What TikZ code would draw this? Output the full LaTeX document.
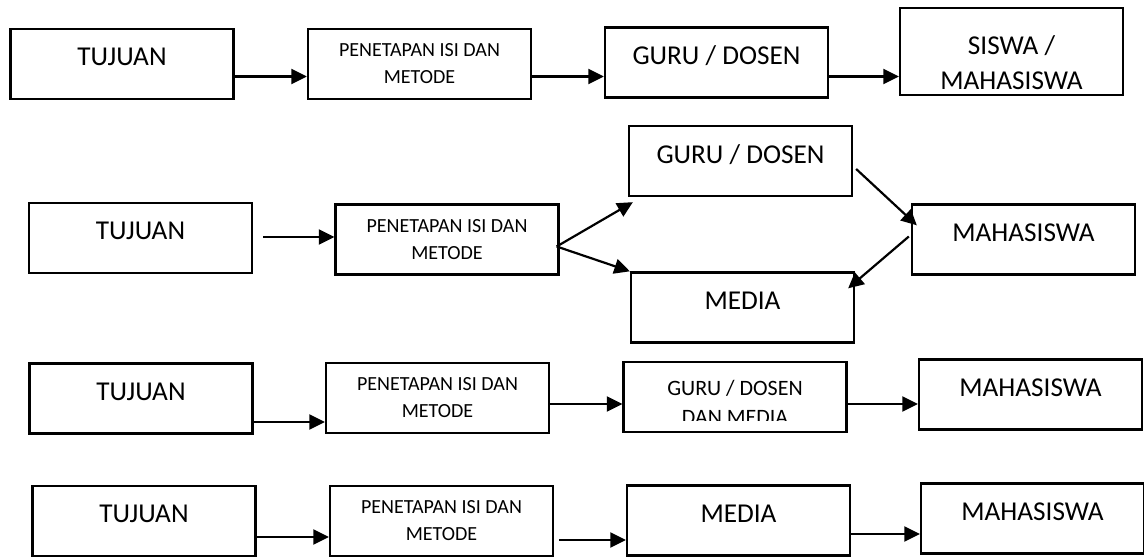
\documentclass[tikz,border=0pt]{standalone}
\usepackage{fontspec}
\setmainfont{Carlito}
\usetikzlibrary{arrows.meta}

\begin{document}
\begin{tikzpicture}[x=0.02cm, y=-0.02cm,
  box/.style={draw, line width=1.35pt, minimum width=4.46cm, minimum height=1.4cm, inner sep=0pt, align=center},
  bigtxt/.style={font=\fontsize{15.5}{19.9}\selectfont},
  smalltxt/.style={font=\fontsize{11.4}{15.4}\selectfont},
  midtxt/.style={font=\fontsize{12.5}{16.5}\selectfont},
  lift/.style={text depth=0.28cm},
  arr/.style={line width=1.25pt, -{Triangle[length=0.31cm, width=0.3cm]}}]
\useasboundingbox (0,0) rectangle (1144,557);

\node[box,bigtxt,lift] (tuj1) at (122,64) {TUJUAN};
\node[box,smalltxt] (pen1) at (419.5,64) {PENETAPAN ISI DAN\\METODE};
\node[box,bigtxt,lift] (gur1) at (716.5,62.5) {GURU / DOSEN};
\node[box,bigtxt,minimum height=1.74cm,text height=1.53cm] (sis1) at (1011.5,51.5) {SISWA /\\MAHASISWA};
\coordinate (r1) at (0,76.5);
\draw[arr] (tuj1.east |- r1) -- (pen1.west |- r1);
\draw[arr] (pen1.east |- r1) -- (gur1.west |- r1);
\draw[arr] (gur1.east |- r1) -- (sis1.west |- r1);

\node[box,bigtxt,lift] (tuj2) at (140.5,238) {TUJUAN};
\node[box,smalltxt] (pen2) at (447,239.5) {PENETAPAN ISI DAN\\METODE};
\node[box,bigtxt,lift] (gur2) at (740.5,161) {GURU / DOSEN};
\node[box,bigtxt,lift] (med2) at (742.5,307.5) {MEDIA};
\node[box,bigtxt,lift] (mah2) at (1023.5,239.5) {MAHASISWA};
\coordinate (r2) at (0,237);
\coordinate (fan) at ([shift={(-3,7)}]pen2.east);
\draw[arr, shorten <=0.2cm] (tuj2.east |- r2) -- (pen2.west |- r2);
\draw[arr] (fan) -- ([shift={(5,5)}]gur2.south west);
\draw[arr] (fan) -- (med2.north west);
\draw[arr] ([shift={(3,8)}]gur2.east) -- ([shift={(6,22)}]mah2.north west);
\draw[arr] ([shift={(-2,-3)}]mah2.west) -- ([shift={(-7,17)}]med2.north east);

\node[box,bigtxt,lift] (tuj3) at (141,398.5) {TUJUAN};
\node[box,smalltxt] (pen3) at (437.5,398) {PENETAPAN ISI DAN\\METODE};
\node[box, path picture={
    \clip ([yshift=0.22cm]path picture bounding box.south west) rectangle (path picture bounding box.north east);
    \node[midtxt, align=center] (gur3txt) at ([yshift=-0.11cm]path picture bounding box.center) {GURU / DOSEN\\DAN MEDIA};
  }] (gur3) at (735,397) {};
\node[box,bigtxt,lift] (mah3) at (1030.5,394.5) {MAHASISWA};
\coordinate (r3) at (0,422);
\coordinate (s3) at (0,404);
\draw[arr] (tuj3.east |- r3) -- (pen3.west |- r3);
\draw[arr] (pen3.east |- s3) -- (gur3.west |- s3);
\draw[arr] (gur3.east |- s3) -- (mah3.west |- s3);

\node[box,bigtxt,lift] (tuj4) at (144,521) {TUJUAN};
\node[box,smalltxt] (pen4) at (441.5,521) {PENETAPAN ISI DAN\\METODE};
\node[box,bigtxt,lift] (med4) at (738.5,520.5) {MEDIA};
\node[box,bigtxt,lift] (mah4) at (1032.5,518.5) {MAHASISWA};
\coordinate (r4) at (0,537);
\coordinate (s4) at (0,540);
\coordinate (t4) at (0,534);
\draw[arr] (tuj4.east |- r4) -- (pen4.west |- r4);
\draw[arr, shorten <=0.1cm] (pen4.east |- s4) -- (med4.west |- s4);
\draw[arr] (med4.east |- t4) -- (mah4.west |- t4);
\end{tikzpicture}
\end{document}
